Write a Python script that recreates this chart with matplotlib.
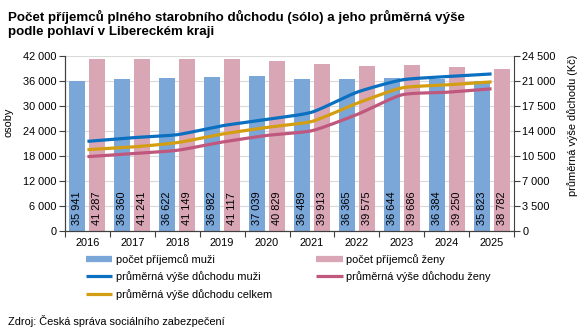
import numpy as np
import matplotlib
matplotlib.use("Agg")
import matplotlib.pyplot as plt
from matplotlib.lines import Line2D
from matplotlib.ticker import FuncFormatter

plt.rcParams['font.family'] = ['Liberation Sans', 'DejaVu Sans']

years = ["2016", "2017", "2018", "2019", "2020", "2021", "2022", "2023", "2024", "2025"]
count_men = [35941, 36360, 36622, 36982, 37039, 36489, 36365, 36644, 36384, 35823]
count_women = [41287, 41241, 41149, 41117, 40829, 39913, 39575, 39686, 39250, 38782]
avg_men = [12530, 13040, 13460, 14710, 15590, 16610, 19390, 21120, 21580, 21950]
avg_women = [10390, 10810, 11280, 12430, 13360, 14020, 16270, 19030, 19390, 19870]
avg_total = [11370, 11740, 12350, 13550, 14480, 15310, 17840, 20000, 20420, 20840]

C_BAR_M = "#7BA6D8"
C_BAR_F = "#D9A6B6"
C_LINE_M = "#0A70BF"
C_LINE_F = "#C0587E"
C_LINE_T = "#D39E12"


def smooth(xs, ys, n=20):
    xs = np.asarray(xs, float)
    ys = np.asarray(ys, float)
    px = np.concatenate([[2 * xs[0] - xs[1]], xs, [2 * xs[-1] - xs[-2]]])
    py = np.concatenate([[2 * ys[0] - ys[1]], ys, [2 * ys[-1] - ys[-2]]])
    ox, oy = [], []
    for i in range(1, len(px) - 2):
        t = np.linspace(0, 1, n, endpoint=False)
        for P, out in ((px, ox), (py, oy)):
            p0, p1, p2, p3 = P[i - 1], P[i], P[i + 1], P[i + 2]
            m1 = (p2 - p0) / 2 * 0.6
            m2 = (p3 - p1) / 2 * 0.6
            h00 = 2 * t**3 - 3 * t**2 + 1
            h10 = t**3 - 2 * t**2 + t
            h01 = -2 * t**3 + 3 * t**2
            h11 = t**3 - t**2
            out.extend(h00 * p1 + h10 * m1 + h01 * p2 + h11 * m2)
    ox.append(xs[-1])
    oy.append(ys[-1])
    return np.array(ox), np.array(oy)


fig = plt.figure(figsize=(5.86, 3.32), dpi=100)
ax = fig.add_axes([65 / 586, 1 - 231 / 332, (514 - 65) / 586, (231 - 55.7) / 332])
ax2 = ax.twinx()

x = np.arange(len(years))
w = 0.356
off = 0.222
ax.bar(x - off, count_men, width=w, color=C_BAR_M, zorder=2)
ax.bar(x + off, count_women, width=w, color=C_BAR_F, zorder=2)

for xi, v in zip(x - off, count_men):
    ax.text(xi, 1400, f"{v:,}".replace(",", " "), rotation=90, ha="center", va="bottom",
            fontsize=7.9, color="black", zorder=3)
for xi, v in zip(x + off, count_women):
    ax.text(xi, 1400, f"{v:,}".replace(",", " "), rotation=90, ha="center", va="bottom",
            fontsize=7.9, color="black", zorder=3)

ax.set_xlim(-0.5, len(years) - 0.5)
ax.set_ylim(0, 42000)
ax.set_yticks(np.arange(0, 42001, 6000))
fmt = FuncFormatter(lambda v, p: f"{int(v):,}".replace(",", " "))
ax.yaxis.set_major_formatter(fmt)
ax.grid(axis="y", color="#D9D9D9", linewidth=0.8, zorder=0)
ax.set_axisbelow(True)
ax.set_xticks(x)
ax.set_xticklabels(years, fontsize=7.9)
ax.set_xticks(np.arange(-0.5, len(years), 1), minor=True)
ax.tick_params(axis="x", which="major", length=0, pad=5)
ax.tick_params(axis="x", which="minor", length=4, width=0.8, color="#404040")
ax.tick_params(axis="y", labelsize=7.9, length=4, width=0.8, color="#404040", pad=2)

ax2.set_ylim(0, 24500)
ax2.set_yticks(np.arange(0, 24501, 3500))
ax2.yaxis.set_major_formatter(fmt)
ax2.tick_params(axis="y", labelsize=7.9, length=4, width=0.8, color="#404040", pad=2)

for a in (ax, ax2):
    a.spines["top"].set_visible(False)
    for s in ("left", "right", "bottom"):
        a.spines[s].set_color("#404040")
        a.spines[s].set_linewidth(0.8)
ax.spines["right"].set_visible(False)

for data, c in ((avg_women, C_LINE_F), (avg_total, C_LINE_T), (avg_men, C_LINE_M)):
    sx, sy = smooth(x, data)
    ax2.plot(sx, sy, color=c, linewidth=2.3, solid_capstyle="butt", zorder=4)

fig.text(8 / 586, 1 - 10 / 332, "Počet příjemců plného starobního důchodu (sólo) a jeho průměrná výše\npodle pohlaví v Libereckém kraji",
         fontsize=9.6, fontweight="bold", ha="left", va="top", linespacing=1.2)
fig.text(8 / 586, 1 - 122 / 332, "osoby", rotation=90, fontsize=7.9, ha="center", va="center")
fig.text(573 / 586, 1 - 125 / 332, "průměrná výše důchodu (Kč)", rotation=90, fontsize=7.9,
         ha="center", va="center")
fig.text(8 / 586, 1 - 321 / 332, "Zdroj: Česká správa sociálního zabezpečení", fontsize=7.9,
         ha="left", va="center")

handles = [
    Line2D([], [], color=C_BAR_M, linewidth=4.5, solid_capstyle="butt"),
    Line2D([], [], color=C_LINE_M, linewidth=2.3, solid_capstyle="butt"),
    Line2D([], [], color=C_LINE_T, linewidth=2.3, solid_capstyle="butt"),
    Line2D([], [], color=C_BAR_F, linewidth=4.5, solid_capstyle="butt"),
    Line2D([], [], color=C_LINE_F, linewidth=2.3, solid_capstyle="butt"),
]
labels = ["počet příjemců muži", "průměrná výše důchodu muži", "průměrná výše důchodu celkem",
          "počet příjemců ženy", "průměrná výše důchodu ženy"]
fig.legend(handles, labels, ncol=2, loc="upper left", bbox_to_anchor=(86 / 586, 1 - 254 / 332),
           frameon=False, fontsize=7.9, handlelength=2.4, handletextpad=0.35,
           columnspacing=4.0, labelspacing=0.6, borderaxespad=0, borderpad=0)

fig.savefig("out.png", dpi=100)
